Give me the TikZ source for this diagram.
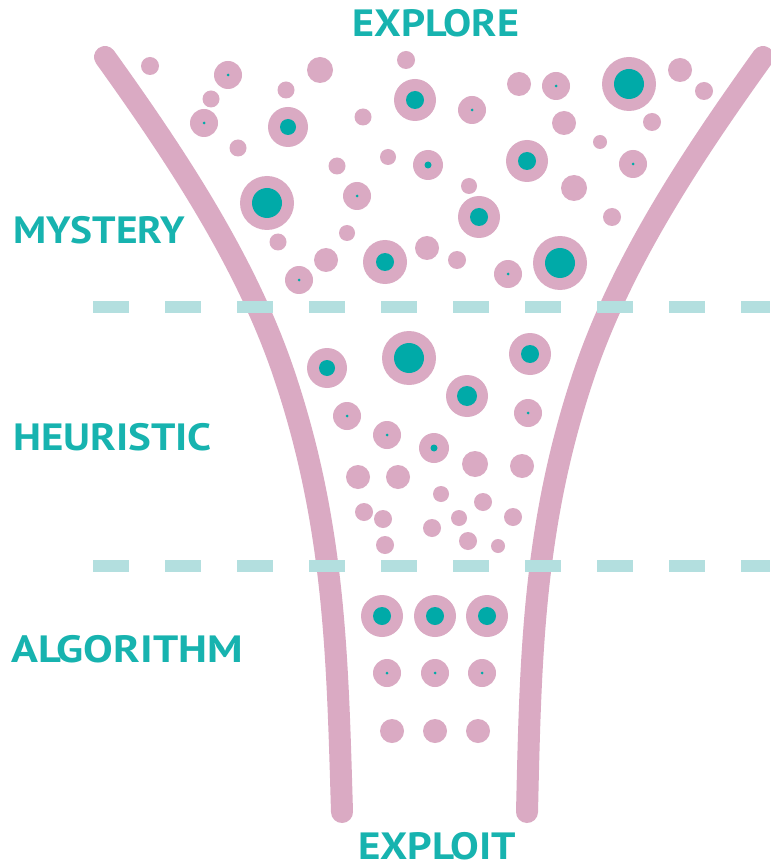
\documentclass[tikz,border=0pt]{standalone}
\usepackage{graphicx}
\usepackage{fontspec}
\setmainfont{PT Sans}
\definecolor{pinkf}{HTML}{DAAAC3}
\definecolor{tealdot}{HTML}{00AAA8}
\definecolor{tealtxt}{HTML}{17B3AF}
\definecolor{dashc}{HTML}{B3DFDF}
\begin{document}
\begin{tikzpicture}[x=1pt,y=-1pt,
  funnel/.style={draw=pinkf, line width=22pt, line cap=round},
  divider/.style={draw=dashc, line width=11.5pt, dash pattern=on 36pt off 36pt},
  lbl/.style={text=tealtxt, font=\bfseries\fontsize{38}{40}\selectfont, inner sep=0pt},
  plainc/.style={fill=pinkf},
  corec/.style={fill=tealdot}]
\useasboundingbox (0,0) rectangle (770,866);
\fill[white] (0,0) rectangle (770,866);
% funnel walls
\coordinate (ltop) at (105,57);
\coordinate (lmid) at (286,380);
\coordinate (lbot) at (342,812);
\coordinate (rtop) at (763,57);
\coordinate (rmid) at (582,380);
\coordinate (rbot) at (527,812);
\draw[funnel] (ltop) .. controls (184,167) and (250,270) .. (lmid)
                     .. controls (335.5,530) and (337.5,662) .. (lbot);
\draw[funnel] (rtop) .. controls (684,167) and (618,270) .. (rmid)
                     .. controls (532.5,530) and (530.5,662) .. (rbot);
% plain circles
\foreach \x/\y/\r in {150/66/9, 211/99/8.5, 238/148/8.5, 286/90/8.5, 320/70/13, 363/117/8.5, 388/157/8, 337/166/8.5, 347/233/8, 278/242/8.5, 326/260/12, 406/60/9, 519/84/12, 564/123/12, 652/122/9, 600/142/7, 469/186/8, 574/188/13, 612/217/9, 427/248/12, 457/260/9, 680/70/12, 704/91/9,
  475/464/13, 522/466/12, 358/477/12, 398/477/12, 441/494/8, 483/502/9, 364/512/9, 383/519/9, 459/518/8, 513/517/9, 432/528/9, 385/545/9, 468/541/9, 498/546/7,
  392/731/12, 435/731/12, 478/731/12}
  \fill[plainc] (\x,\y) circle[radius=\r pt];
% circles with a core
\foreach \x/\y/\R/\r in {228/75/14/1.5, 204/123/14/1.5, 357/196/14/1.5, 299/280/14/1.5, 472/110/14/1.5, 556/86/14/1.5, 633/164/14/1.5, 508/274/14/1.5,
  288/127/20/8, 267/203/27/15, 385/262/22/9, 415/100/21/9, 629/84/27/15, 527/161/21/9, 479/217/21/9, 560/263/27/15, 428/165/15/3.5,
  327/368/20/8, 409/358/27/15, 530/354/21/9, 467/396/21/10, 434/448/15/3.5, 347/416/14/1.5, 528/413/14/1.5, 387/435/14/1.5,
  382/616/21/9, 435/616/21/9, 487/616/21/9, 387/673/14/1.5, 435/673/14/1.5, 482/673/14/1.5}
  {\fill[plainc] (\x,\y) circle[radius=\R pt];
   \fill[corec] (\x,\y) circle[radius=\r pt];}
% dividers
\draw[divider] (93,307) -- (770,307);
\draw[divider] (93,566) -- (770,566);
% labels
\node[lbl, anchor=base] (explore) at (436,37) {\scalebox{1.11}[1]{EXPLORE}};
\node[lbl, anchor=base] (exploit) at (437,859) {\scalebox{1.13}[1]{EXPLOIT}};
\node[lbl, anchor=base west] (mystery) at (13,244) {\scalebox{1.09}[1]{MYSTERY}};
\node[lbl, anchor=base west] (heuristic) at (13,450) {\scalebox{1.13}[1]{HEURISTIC}};
\node[lbl, anchor=base west] (algorithm) at (11,662) {\scalebox{1.17}[1]{ALGORITHM}};
\end{tikzpicture}
\end{document}
